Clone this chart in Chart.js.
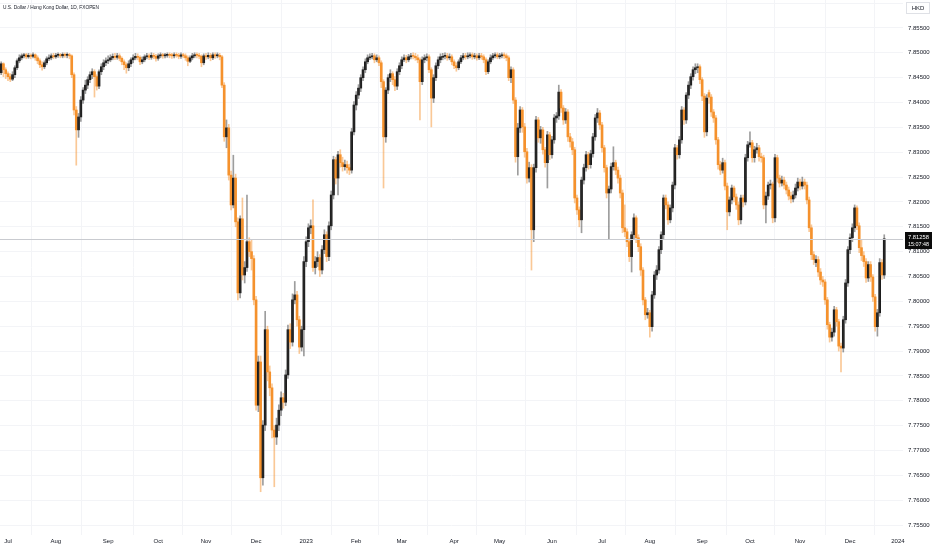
<!DOCTYPE html>
<html>
<head>
<meta charset="utf-8">
<script src="https://cdn.jsdelivr.net/npm/chart.js@4.4.1/dist/chart.umd.min.js"></script>
<style>
  html, body { margin: 0; padding: 0; background: #ffffff; }
  canvas { display: block; }
</style>
</head>
<body>
<canvas id="graph1" width="932" height="550"></canvas>
<script>
// USD/HKD daily candles, 28 Jun 2022 .. 22 Dec 2023 (weekdays)
const firstDay = [2022, 5, 28];
const monthNames = ["Jan", "Feb", "Mar", "Apr", "May", "Jun", "Jul", "Aug", "Sep", "Oct", "Nov", "Dec"];
const yTickStep = 0.005;

const opens = [
  7.8460, 7.8478, 7.8466, 7.8458, 7.8452, 7.8447, 7.8456, 7.8470, 7.8484, 7.8490,
  7.8494, 7.8496, 7.8492, 7.8495, 7.8493, 7.8496, 7.8490, 7.8484, 7.8476, 7.8472,
  7.8480, 7.8488, 7.8490, 7.8494, 7.8492, 7.8495, 7.8496, 7.8494, 7.8497, 7.8495,
  7.8496, 7.8494, 7.8456, 7.8385, 7.8345, 7.8371, 7.8405, 7.8425, 7.8435, 7.8446,
  7.8456, 7.8462, 7.8452, 7.8433, 7.8462, 7.8472, 7.8480, 7.8484, 7.8486, 7.8490,
  7.8493, 7.8491, 7.8494, 7.8489, 7.8482, 7.8476, 7.8470, 7.8478, 7.8486, 7.8490,
  7.8493, 7.8491, 7.8482, 7.8486, 7.8492, 7.8494, 7.8491, 7.8495, 7.8493, 7.8489,
  7.8494, 7.8496, 7.8494, 7.8495, 7.8497, 7.8495, 7.8494, 7.8496, 7.8495, 7.8493,
  7.8496, 7.8494, 7.8490, 7.8483, 7.8490, 7.8494, 7.8496, 7.8495, 7.8493, 7.8480,
  7.8494, 7.8492, 7.8495, 7.8490, 7.8496, 7.8494, 7.8495, 7.8492, 7.8435, 7.8331,
  7.8349, 7.8254, 7.8194, 7.8248, 7.8160, 7.8017, 7.8166, 7.8053, 7.8068, 7.8120,
  7.8100, 7.8086, 7.8003, 7.7791, 7.7878, 7.7645, 7.7751, 7.7943, 7.7858, 7.7826,
  7.7741, 7.7727, 7.7751, 7.7781, 7.7806, 7.7797, 7.7852, 7.7943, 7.7918, 7.8003,
  7.8013, 7.7963, 7.7908, 7.7943, 7.8080, 7.8120, 7.8148, 7.8152, 7.8068, 7.8080,
  7.8088, 7.8063, 7.8104, 7.8134, 7.8090, 7.8152, 7.8214, 7.8285, 7.8248, 7.8295,
  7.8279, 7.8271, 7.8275, 7.8269, 7.8264, 7.8341, 7.8395, 7.8415, 7.8429, 7.8450,
  7.8466, 7.8482, 7.8490, 7.8492, 7.8494, 7.8486, 7.8490, 7.8480, 7.8442, 7.8331,
  7.8425, 7.8450, 7.8458, 7.8446, 7.8433, 7.8462, 7.8474, 7.8486, 7.8490, 7.8486,
  7.8492, 7.8494, 7.8493, 7.8490, 7.8486, 7.8442, 7.8486, 7.8490, 7.8492, 7.8466,
  7.8409, 7.8450, 7.8474, 7.8486, 7.8491, 7.8493, 7.8494, 7.8490, 7.8492, 7.8482,
  7.8474, 7.8470, 7.8482, 7.8490, 7.8494, 7.8492, 7.8494, 7.8496, 7.8492, 7.8494,
  7.8490, 7.8494, 7.8492, 7.8486, 7.8462, 7.8482, 7.8490, 7.8494, 7.8496, 7.8492,
  7.8494, 7.8496, 7.8494, 7.8490, 7.8450, 7.8466, 7.8405, 7.8291, 7.8349, 7.8385,
  7.8351, 7.8301, 7.8248, 7.8269, 7.8144, 7.8269, 7.8365, 7.8329, 7.8345, 7.8305,
  7.8279, 7.8335, 7.8295, 7.8325, 7.8369, 7.8373, 7.8421, 7.8389, 7.8365, 7.8381,
  7.8331, 7.8321, 7.8305, 7.8208, 7.8184, 7.8164, 7.8244, 7.8269, 7.8295, 7.8275,
  7.8297, 7.8331, 7.8369, 7.8379, 7.8355, 7.8309, 7.8269, 7.8218, 7.8226, 7.8271,
  7.8279, 7.8264, 7.8248, 7.8218, 7.8148, 7.8140, 7.8120, 7.8090, 7.8134, 7.8168,
  7.8128, 7.8110, 7.8063, 7.8003, 7.7973, 7.7977, 7.7949, 7.8013, 7.8053, 7.8063,
  7.8104, 7.8134, 7.8208, 7.8194, 7.8164, 7.8188, 7.8234, 7.8309, 7.8295, 7.8325,
  7.8385, 7.8365, 7.8415, 7.8435, 7.8452, 7.8466, 7.8470, 7.8472, 7.8446, 7.8413,
  7.8341, 7.8420, 7.8411, 7.8381, 7.8369, 7.8325, 7.8275, 7.8264, 7.8279, 7.8232,
  7.8180, 7.8204, 7.8228, 7.8210, 7.8194, 7.8164, 7.8208, 7.8200, 7.8289, 7.8315,
  7.8319, 7.8289, 7.8305, 7.8309, 7.8291, 7.8289, 7.8194, 7.8212, 7.8234, 7.8236,
  7.8168, 7.8289, 7.8248, 7.8238, 7.8244, 7.8234, 7.8224, 7.8212, 7.8206, 7.8214,
  7.8228, 7.8240, 7.8232, 7.8240, 7.8234, 7.8204, 7.8148, 7.8094, 7.8078, 7.8084,
  7.8059, 7.8043, 7.8039, 7.8003, 7.7953, 7.7928, 7.7938, 7.7983, 7.7959, 7.7910,
  7.7906, 7.7963, 7.8037, 7.8104, 7.8128, 7.8148, 7.8188, 7.8152, 7.8108, 7.8092,
  7.8080, 7.8047, 7.8074, 7.8049, 7.8009, 7.7949, 7.7977, 7.8078, 7.8053
];

const highs = [
  7.8482, 7.8480, 7.8470, 7.8462, 7.8458, 7.8462, 7.8474, 7.8488, 7.8496, 7.8498,
  7.8499, 7.8499, 7.8499, 7.8498, 7.8500, 7.8498, 7.8494, 7.8488, 7.8482, 7.8484,
  7.8492, 7.8496, 7.8498, 7.8499, 7.8499, 7.8500, 7.8499, 7.8500, 7.8500, 7.8500,
  7.8499, 7.8496, 7.8460, 7.8392, 7.8378, 7.8412, 7.8430, 7.8445, 7.8452, 7.8462,
  7.8468, 7.8466, 7.8456, 7.8466, 7.8478, 7.8486, 7.8490, 7.8494, 7.8496, 7.8498,
  7.8499, 7.8499, 7.8498, 7.8492, 7.8486, 7.8480, 7.8484, 7.8490, 7.8496, 7.8499,
  7.8498, 7.8494, 7.8492, 7.8496, 7.8499, 7.8498, 7.8500, 7.8499, 7.8497, 7.8498,
  7.8500, 7.8499, 7.8499, 7.8500, 7.8500, 7.8499, 7.8500, 7.8500, 7.8499, 7.8500,
  7.8499, 7.8498, 7.8494, 7.8494, 7.8499, 7.8500, 7.8500, 7.8499, 7.8496, 7.8498,
  7.8499, 7.8500, 7.8499, 7.8500, 7.8500, 7.8500, 7.8499, 7.8495, 7.8440, 7.8365,
  7.8356, 7.8262, 7.8294, 7.8256, 7.8168, 7.8172, 7.8208, 7.8080, 7.8214, 7.8128,
  7.8124, 7.8092, 7.8010, 7.7890, 7.7890, 7.7760, 7.7980, 7.7950, 7.7870, 7.7834,
  7.7750, 7.7765, 7.7792, 7.7818, 7.7815, 7.7862, 7.7952, 7.7955, 7.8015, 7.8040,
  7.8020, 7.7970, 7.7950, 7.8090, 7.8130, 7.8156, 7.8164, 7.8204, 7.8090, 7.8100,
  7.8094, 7.8112, 7.8144, 7.8140, 7.8160, 7.8222, 7.8292, 7.8290, 7.8302, 7.8305,
  7.8290, 7.8284, 7.8282, 7.8276, 7.8348, 7.8402, 7.8422, 7.8436, 7.8456, 7.8472,
  7.8488, 7.8496, 7.8498, 7.8499, 7.8498, 7.8496, 7.8494, 7.8484, 7.8446, 7.8430,
  7.8456, 7.8466, 7.8462, 7.8452, 7.8468, 7.8480, 7.8492, 7.8496, 7.8495, 7.8497,
  7.8499, 7.8500, 7.8499, 7.8496, 7.8490, 7.8492, 7.8496, 7.8498, 7.8496, 7.8470,
  7.8456, 7.8480, 7.8492, 7.8498, 7.8499, 7.8500, 7.8499, 7.8498, 7.8496, 7.8486,
  7.8480, 7.8486, 7.8495, 7.8499, 7.8499, 7.8500, 7.8500, 7.8500, 7.8499, 7.8498,
  7.8499, 7.8499, 7.8496, 7.8490, 7.8486, 7.8496, 7.8499, 7.8500, 7.8500, 7.8499,
  7.8500, 7.8500, 7.8498, 7.8494, 7.8472, 7.8470, 7.8410, 7.8358, 7.8392, 7.8390,
  7.8358, 7.8308, 7.8280, 7.8275, 7.8276, 7.8372, 7.8370, 7.8352, 7.8350, 7.8310,
  7.8342, 7.8340, 7.8332, 7.8376, 7.8380, 7.8435, 7.8426, 7.8394, 7.8388, 7.8386,
  7.8338, 7.8328, 7.8310, 7.8214, 7.8190, 7.8250, 7.8276, 7.8302, 7.8300, 7.8304,
  7.8338, 7.8376, 7.8388, 7.8384, 7.8360, 7.8314, 7.8274, 7.8232, 7.8278, 7.8311,
  7.8284, 7.8270, 7.8254, 7.8224, 7.8194, 7.8146, 7.8126, 7.8140, 7.8176, 7.8172,
  7.8134, 7.8116, 7.8068, 7.8008, 7.7986, 7.7982, 7.8020, 7.8060, 7.8072, 7.8110,
  7.8140, 7.8214, 7.8214, 7.8200, 7.8194, 7.8240, 7.8316, 7.8314, 7.8332, 7.8392,
  7.8390, 7.8420, 7.8442, 7.8458, 7.8472, 7.8478, 7.8478, 7.8476, 7.8450, 7.8418,
  7.8416, 7.8425, 7.8416, 7.8386, 7.8374, 7.8330, 7.8282, 7.8288, 7.8284, 7.8238,
  7.8210, 7.8234, 7.8232, 7.8216, 7.8200, 7.8214, 7.8214, 7.8296, 7.8322, 7.8341,
  7.8324, 7.8312, 7.8318, 7.8314, 7.8298, 7.8294, 7.8220, 7.8240, 7.8244, 7.8240,
  7.8296, 7.8294, 7.8254, 7.8252, 7.8250, 7.8240, 7.8230, 7.8220, 7.8222, 7.8236,
  7.8248, 7.8246, 7.8250, 7.8246, 7.8240, 7.8210, 7.8154, 7.8100, 7.8092, 7.8090,
  7.8066, 7.8050, 7.8044, 7.8008, 7.7958, 7.7946, 7.7990, 7.7988, 7.7964, 7.7916,
  7.7970, 7.8044, 7.8110, 7.8136, 7.8156, 7.8194, 7.8192, 7.8158, 7.8124, 7.8100,
  7.8086, 7.8080, 7.8080, 7.8054, 7.8014, 7.7984, 7.8086, 7.8084, 7.8134
];

const lows = [
  7.8456, 7.8452, 7.8448, 7.8444, 7.8442, 7.8444, 7.8450, 7.8466, 7.8480, 7.8486,
  7.8490, 7.8488, 7.8489, 7.8488, 7.8490, 7.8485, 7.8478, 7.8470, 7.8465, 7.8468,
  7.8476, 7.8484, 7.8486, 7.8488, 7.8489, 7.8491, 7.8490, 7.8490, 7.8491, 7.8490,
  7.8488, 7.8450, 7.8375, 7.8274, 7.8330, 7.8362, 7.8398, 7.8418, 7.8428, 7.8440,
  7.8448, 7.8411, 7.8425, 7.8428, 7.8456, 7.8466, 7.8474, 7.8478, 7.8482, 7.8486,
  7.8486, 7.8487, 7.8484, 7.8476, 7.8466, 7.8459, 7.8464, 7.8472, 7.8480, 7.8486,
  7.8486, 7.8476, 7.8478, 7.8482, 7.8488, 7.8486, 7.8487, 7.8488, 7.8483, 7.8485,
  7.8490, 7.8489, 7.8490, 7.8491, 7.8490, 7.8489, 7.8490, 7.8491, 7.8488, 7.8489,
  7.8490, 7.8485, 7.8474, 7.8480, 7.8486, 7.8490, 7.8490, 7.8488, 7.8472, 7.8476,
  7.8487, 7.8488, 7.8484, 7.8486, 7.8489, 7.8490, 7.8486, 7.8430, 7.8322, 7.8309,
  7.8244, 7.8184, 7.8188, 7.8150, 7.8003, 7.8007, 7.8043, 7.8037, 7.8060, 7.8090,
  7.8063, 7.7993, 7.7781, 7.7778, 7.7617, 7.7630, 7.7740, 7.7840, 7.7810, 7.7725,
  7.7627, 7.7712, 7.7740, 7.7770, 7.7785, 7.7790, 7.7845, 7.7905, 7.7910, 7.7995,
  7.7950, 7.7895, 7.7900, 7.7890, 7.8070, 7.8110, 7.8136, 7.8060, 7.8055, 7.8070,
  7.8050, 7.8055, 7.8096, 7.8080, 7.8082, 7.8144, 7.8206, 7.8236, 7.8214, 7.8270,
  7.8262, 7.8264, 7.8258, 7.8255, 7.8258, 7.8335, 7.8385, 7.8408, 7.8422, 7.8444,
  7.8460, 7.8478, 7.8486, 7.8488, 7.8480, 7.8482, 7.8474, 7.8430, 7.8228, 7.8320,
  7.8418, 7.8442, 7.8436, 7.8424, 7.8426, 7.8456, 7.8468, 7.8482, 7.8480, 7.8482,
  7.8488, 7.8488, 7.8485, 7.8480, 7.8365, 7.8436, 7.8480, 7.8484, 7.8460, 7.8351,
  7.8400, 7.8444, 7.8468, 7.8480, 7.8486, 7.8488, 7.8485, 7.8486, 7.8476, 7.8468,
  7.8463, 7.8466, 7.8478, 7.8486, 7.8487, 7.8488, 7.8490, 7.8487, 7.8488, 7.8485,
  7.8486, 7.8487, 7.8480, 7.8456, 7.8458, 7.8478, 7.8486, 7.8490, 7.8488, 7.8488,
  7.8490, 7.8489, 7.8484, 7.8444, 7.8440, 7.8398, 7.8280, 7.8254, 7.8340, 7.8340,
  7.8290, 7.8238, 7.8240, 7.8063, 7.8120, 7.8260, 7.8320, 7.8318, 7.8296, 7.8270,
  7.8228, 7.8285, 7.8288, 7.8318, 7.8360, 7.8366, 7.8380, 7.8356, 7.8358, 7.8322,
  7.8310, 7.8295, 7.8198, 7.8175, 7.8150, 7.8138, 7.8236, 7.8262, 7.8266, 7.8268,
  7.8290, 7.8324, 7.8360, 7.8346, 7.8300, 7.8260, 7.8208, 7.8124, 7.8218, 7.8264,
  7.8255, 7.8238, 7.8208, 7.8138, 7.8130, 7.8110, 7.8080, 7.8059, 7.8126, 7.8118,
  7.8100, 7.8052, 7.7993, 7.7963, 7.7966, 7.7928, 7.7940, 7.8006, 7.8044, 7.8056,
  7.8096, 7.8126, 7.8186, 7.8155, 7.8158, 7.8180, 7.8226, 7.8286, 7.8288, 7.8318,
  7.8356, 7.8358, 7.8408, 7.8428, 7.8445, 7.8458, 7.8460, 7.8438, 7.8404, 7.8330,
  7.8333, 7.8398, 7.8372, 7.8360, 7.8316, 7.8266, 7.8255, 7.8258, 7.8224, 7.8144,
  7.8172, 7.8196, 7.8200, 7.8185, 7.8154, 7.8156, 7.8190, 7.8194, 7.8282, 7.8310,
  7.8280, 7.8280, 7.8298, 7.8282, 7.8280, 7.8186, 7.8158, 7.8205, 7.8226, 7.8158,
  7.8160, 7.8240, 7.8230, 7.8232, 7.8226, 7.8216, 7.8204, 7.8198, 7.8200, 7.8208,
  7.8222, 7.8224, 7.8226, 7.8226, 7.8196, 7.8140, 7.8084, 7.8074, 7.8070, 7.8050,
  7.8034, 7.8030, 7.7994, 7.7944, 7.7918, 7.7920, 7.7930, 7.7950, 7.7900, 7.7858,
  7.7898, 7.7956, 7.8030, 7.8096, 7.8120, 7.8140, 7.8144, 7.8098, 7.8082, 7.8070,
  7.8038, 7.8040, 7.8040, 7.8000, 7.7940, 7.7930, 7.7970, 7.8044, 7.8046
];

const closes = [
  7.8478, 7.8466, 7.8458, 7.8452, 7.8447, 7.8456, 7.8470, 7.8484, 7.8490, 7.8494,
  7.8496, 7.8492, 7.8495, 7.8493, 7.8496, 7.8490, 7.8484, 7.8476, 7.8472, 7.8480,
  7.8488, 7.8490, 7.8494, 7.8492, 7.8495, 7.8496, 7.8494, 7.8497, 7.8495, 7.8496,
  7.8494, 7.8456, 7.8385, 7.8345, 7.8371, 7.8405, 7.8425, 7.8435, 7.8446, 7.8456,
  7.8462, 7.8452, 7.8433, 7.8462, 7.8472, 7.8480, 7.8484, 7.8486, 7.8490, 7.8493,
  7.8491, 7.8494, 7.8489, 7.8482, 7.8476, 7.8470, 7.8478, 7.8486, 7.8490, 7.8493,
  7.8491, 7.8482, 7.8486, 7.8492, 7.8494, 7.8491, 7.8495, 7.8493, 7.8489, 7.8494,
  7.8496, 7.8494, 7.8495, 7.8497, 7.8495, 7.8494, 7.8496, 7.8495, 7.8493, 7.8496,
  7.8494, 7.8490, 7.8483, 7.8490, 7.8494, 7.8496, 7.8495, 7.8493, 7.8480, 7.8494,
  7.8492, 7.8495, 7.8490, 7.8496, 7.8494, 7.8495, 7.8492, 7.8435, 7.8331, 7.8349,
  7.8254, 7.8194, 7.8248, 7.8160, 7.8017, 7.8166, 7.8053, 7.8068, 7.8120, 7.8100,
  7.8086, 7.8003, 7.7791, 7.7878, 7.7645, 7.7751, 7.7943, 7.7858, 7.7826, 7.7741,
  7.7727, 7.7751, 7.7781, 7.7806, 7.7797, 7.7852, 7.7943, 7.7918, 7.8003, 7.8013,
  7.7963, 7.7908, 7.7943, 7.8080, 7.8120, 7.8148, 7.8152, 7.8068, 7.8080, 7.8088,
  7.8063, 7.8104, 7.8134, 7.8090, 7.8152, 7.8214, 7.8285, 7.8248, 7.8295, 7.8279,
  7.8271, 7.8275, 7.8269, 7.8264, 7.8341, 7.8395, 7.8415, 7.8429, 7.8450, 7.8466,
  7.8482, 7.8490, 7.8492, 7.8494, 7.8486, 7.8490, 7.8480, 7.8442, 7.8331, 7.8425,
  7.8450, 7.8458, 7.8446, 7.8433, 7.8462, 7.8474, 7.8486, 7.8490, 7.8486, 7.8492,
  7.8494, 7.8493, 7.8490, 7.8486, 7.8442, 7.8486, 7.8490, 7.8492, 7.8466, 7.8409,
  7.8450, 7.8474, 7.8486, 7.8492, 7.8493, 7.8494, 7.8490, 7.8492, 7.8482, 7.8474,
  7.8470, 7.8482, 7.8490, 7.8494, 7.8492, 7.8494, 7.8496, 7.8492, 7.8494, 7.8490,
  7.8494, 7.8492, 7.8486, 7.8462, 7.8482, 7.8490, 7.8494, 7.8496, 7.8492, 7.8494,
  7.8496, 7.8494, 7.8490, 7.8450, 7.8466, 7.8405, 7.8291, 7.8349, 7.8385, 7.8351,
  7.8301, 7.8248, 7.8269, 7.8144, 7.8269, 7.8365, 7.8329, 7.8345, 7.8305, 7.8279,
  7.8335, 7.8295, 7.8325, 7.8369, 7.8373, 7.8421, 7.8389, 7.8365, 7.8381, 7.8331,
  7.8321, 7.8305, 7.8208, 7.8184, 7.8164, 7.8244, 7.8269, 7.8295, 7.8275, 7.8297,
  7.8331, 7.8369, 7.8379, 7.8355, 7.8309, 7.8269, 7.8218, 7.8226, 7.8271, 7.8279,
  7.8264, 7.8248, 7.8218, 7.8148, 7.8140, 7.8120, 7.8090, 7.8134, 7.8168, 7.8128,
  7.8110, 7.8063, 7.8003, 7.7973, 7.7977, 7.7949, 7.8013, 7.8053, 7.8063, 7.8104,
  7.8134, 7.8208, 7.8194, 7.8164, 7.8188, 7.8234, 7.8309, 7.8295, 7.8325, 7.8385,
  7.8365, 7.8415, 7.8435, 7.8452, 7.8466, 7.8470, 7.8472, 7.8446, 7.8413, 7.8341,
  7.8409, 7.8411, 7.8381, 7.8369, 7.8325, 7.8275, 7.8264, 7.8279, 7.8232, 7.8180,
  7.8204, 7.8228, 7.8210, 7.8194, 7.8164, 7.8208, 7.8200, 7.8289, 7.8315, 7.8319,
  7.8289, 7.8305, 7.8309, 7.8291, 7.8289, 7.8194, 7.8212, 7.8234, 7.8236, 7.8168,
  7.8289, 7.8248, 7.8238, 7.8244, 7.8234, 7.8224, 7.8212, 7.8206, 7.8214, 7.8228,
  7.8240, 7.8232, 7.8240, 7.8234, 7.8204, 7.8148, 7.8094, 7.8084, 7.8084, 7.8059,
  7.8043, 7.8039, 7.8003, 7.7953, 7.7928, 7.7938, 7.7983, 7.7959, 7.7910, 7.7906,
  7.7963, 7.8037, 7.8104, 7.8128, 7.8148, 7.8188, 7.8152, 7.8108, 7.8092, 7.8080,
  7.8047, 7.8074, 7.8049, 7.8009, 7.7949, 7.7977, 7.8078, 7.8053, 7.81258
];

const upColor = "#131313";
const downColor = "#f5922d";
const upWick = "rgba(60,60,60,0.5)";
const downWick = "rgba(245,146,45,0.5)";

// trading days (weekdays only), also a bit past the data for the 2024 tick
var days = [];
var d = new Date(Date.UTC(firstDay[0], firstDay[1], firstDay[2]));
while (days.length < 400) {
  var wd = d.getUTCDay();
  if (wd != 0 && wd != 6) days.push(new Date(d));
  d.setUTCDate(d.getUTCDate() + 1);
}
var monthTicks = [];
for (var i = 1; i < days.length; i++) {
  if (days[i].getUTCMonth() != days[i - 1].getUTCMonth()) {
    var m = days[i].getUTCMonth();
    monthTicks.push({ value: i, label: m == 0 ? String(days[i].getUTCFullYear()) : monthNames[m] });
  }
}

function isUp(i) { return closes[i] >= opens[i]; }

var wickData = closes.map(function (c, i) { return { x: i, y: [lows[i], highs[i]] }; });
var bodyData = closes.map(function (c, i) { return { x: i, y: [opens[i], c] }; });

const lastPrice = closes[closes.length - 1];

const overlay = {
  id: "overlay",
  afterDatasetsDraw(chart) {
    const { ctx, chartArea, scales } = chart;
    const py = Math.round(scales.y.getPixelForValue(lastPrice)) + 0.5;
    ctx.save();
    ctx.strokeStyle = "#c9cbd0";
    ctx.lineWidth = 1;
    ctx.beginPath();
    ctx.moveTo(chartArea.left, py);
    ctx.lineTo(chartArea.right, py);
    ctx.stroke();
    ctx.restore();
  },
  afterDraw(chart) {
    const { ctx, scales } = chart;
    const py = Math.round(scales.y.getPixelForValue(lastPrice));
    ctx.save();
    // symbol title
    ctx.fillStyle = "#131722";
    ctx.font = "6px 'Liberation Sans'";
    ctx.textBaseline = "middle";
    ctx.textAlign = "left";
    ctx.fillText("U.S. Dollar / Hong Kong Dollar, 1D, FXOPEN", 3, 7.5, 96);
    // currency box
    ctx.fillStyle = "#ffffff";
    ctx.fillRect(906, 2, 24, 12);
    ctx.strokeStyle = "#dfe1e6";
    ctx.strokeRect(906.5, 2.5, 23, 11);
    ctx.fillStyle = "#131722";
    ctx.textAlign = "center";
    ctx.fillText("HKD", 918, 8.5, 18);
    // last price tag
    ctx.fillStyle = "#0b0b0b";
    ctx.fillRect(905, py - 7, 27, 17);
    ctx.fillStyle = "#ffffff";
    ctx.textAlign = "left";
    ctx.fillText(lastPrice.toFixed(5), 908, py - 2, 21);
    ctx.fillText("15:07:48", 908, py + 5, 21);
    ctx.restore();
  }
};

const ctx = document.getElementById("graph1");

new Chart(ctx, {
  type: "bar",
  data: {
    datasets: [{
      label: "wick",
      data: wickData,
      backgroundColor: function (c) { return isUp(c.dataIndex) ? upWick : downWick; },
      grouped: false,
      barPercentage: 1,
      categoryPercentage: 1,
      maxBarThickness: 1,
      minBarLength: 1
    }, {
      label: "body",
      data: bodyData,
      backgroundColor: function (c) { return isUp(c.dataIndex) ? upColor : downColor; },
      grouped: false,
      barPercentage: 1,
      categoryPercentage: 1,
      maxBarThickness: 2,
      minBarLength: 1
    }]
  },
  options: {
    responsive: false,
    animation: false,
    layout: { padding: 0 },
    plugins: {
      legend: { display: false },
      tooltip: { enabled: false },
      title: { display: false }
    },
    scales: {
      x: {
        type: "linear",
        offset: false,
        min: -0.514,
        max: 396.24,
        afterBuildTicks: function (axis) {
          axis.ticks = monthTicks.map(function (t) { return { value: t.value }; });
        },
        afterFit: function (scale) {
          scale.height = 15;
          scale.paddingLeft = 0;
          scale.paddingRight = 0;
        },
        ticks: {
          autoSkip: false,
          maxRotation: 0,
          padding: 3,
          color: "#131722",
          font: { family: "Liberation Sans", size: 6 },
          callback: function (value) {
            var t = monthTicks.find(function (m) { return m.value == value; });
            return t ? t.label : "";
          }
        },
        grid: { color: "#f3f4f7", drawTicks: false },
        border: { display: false }
      },
      y: {
        position: "right",
        min: 7.75299,
        max: 7.86063,
        afterFit: function (scale) {
          scale.width = 29;
          scale.paddingTop = 0;
          scale.paddingBottom = 0;
        },
        ticks: {
          stepSize: yTickStep,
          includeBounds: false,
          padding: 5,
          color: "#131722",
          font: { family: "Liberation Sans", size: 6 },
          callback: function (value) {
            return value > 7.858 ? "" : value.toFixed(5);
          }
        },
        grid: { color: "#f3f4f7", drawTicks: false },
        border: { display: false }
      }
    }
  },
  plugins: [overlay]
});
</script>
</body>
</html>
